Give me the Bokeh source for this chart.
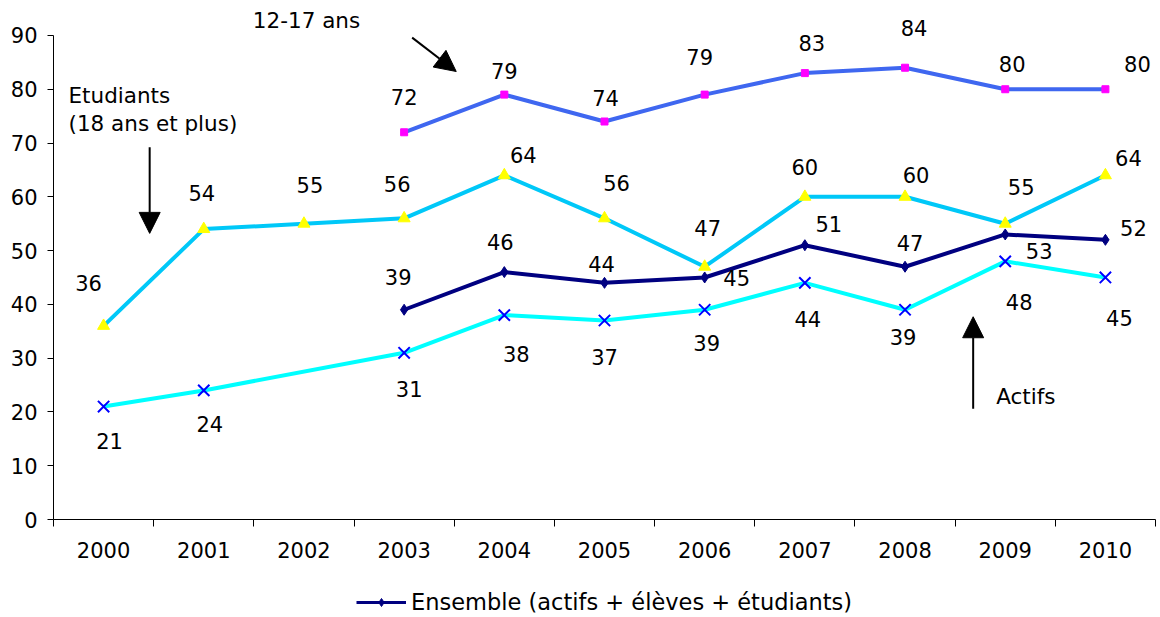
from bokeh.plotting import figure
from bokeh.layouts import column
from bokeh.models import (Range1d, FixedTicker, LabelSet, Label, Arrow, NormalHead,
                          ColumnDataSource, Legend, LegendItem)
from bokeh.core.properties import value
from bokeh.embed import file_html
from bokeh.resources import INLINE

# ---- data ----
years = [2000, 2001, 2002, 2003, 2004, 2005, 2006, 2007, 2008, 2009, 2010]
y_ticks = [0, 10, 20, 30, 40, 50, 60, 70, 80, 90]

ado_years = [2003, 2004, 2005, 2006, 2007, 2008, 2009, 2010]
ado = [72, 79, 74, 79, 83, 84, 80, 80]            # 12-17 ans

etud_years = [2000, 2001, 2002, 2003, 2004, 2005, 2006, 2007, 2008, 2009, 2010]
etud = [36, 54, 55, 56, 64, 56, 47, 60, 60, 55, 64]  # Etudiants (18 ans et plus)

ens_years = [2003, 2004, 2005, 2006, 2007, 2008, 2009, 2010]
ens = [39, 46, 44, 45, 51, 47, 53, 52]            # Ensemble

act_years = [2000, 2001, 2003, 2004, 2005, 2006, 2007, 2008, 2009, 2010]
act = [21, 24, 31, 38, 37, 39, 44, 39, 48, 45]     # Actifs

# label offsets (screen px: dx right, dy down) -- styling only
ado_dx = [0, 0, 1, -5, 7, 9, 7, 32]
ado_dy = [-35, -24, -24, -38, -30, -40, -25, -25]
etud_dx = [-15, -2, 6, -7, 19, 12, 3, 0, 11, 16, 23]
etud_dy = [-43, -36, -39, -34, -20, -35, -39, -30, -22, -37, -17]
ens_dx = [-6, -4, -3, 32, 24, 5, 34, 28]
ens_dy = [-33, -30, -19, 1, -21, -24, 17, -12]
act_dx = [6, 6, 5, 12, 0, 2, 3, -2, 14, 14]
act_dy = [34, 34, 36, 39, 36, 33, 36, 27, 41, 41]

FONT = "DejaVu Sans"
FS = "21px"

p = figure(width=1160, height=570, output_backend="svg", toolbar_location=None,
           x_range=Range1d(1999.5, 2010.5), y_range=Range1d(0, 96.5),
           min_border_left=53, min_border_right=5, min_border_top=0, min_border_bottom=51)
p.outline_line_color = None
p.xgrid.visible = False
p.ygrid.visible = False

# axes
p.yaxis.ticker = FixedTicker(ticks=y_ticks)
p.yaxis.bounds = (0, 90)
p.yaxis.major_tick_out = 6
p.yaxis.major_tick_in = 0
p.yaxis.minor_tick_line_color = None
p.yaxis.major_label_standoff = 10
p.yaxis.axis_line_color = "black"
p.yaxis.major_tick_line_color = "black"

p.xaxis.ticker = FixedTicker(ticks=years, minor_ticks=[y - 0.5 for y in years] + [years[-1] + 0.5])
p.xaxis.major_tick_line_color = None
p.xaxis.minor_tick_out = 7
p.xaxis.minor_tick_in = 0
p.xaxis.minor_tick_line_color = "black"
p.xaxis.major_label_standoff = 15
p.xaxis.axis_line_color = "black"

for ax in (p.xaxis[0], p.yaxis[0]):
    ax.major_label_text_font = FONT
    ax.major_label_text_font_size = FS
    ax.major_label_text_color = "black"

# series
p.line(ado_years, ado, line_color="#3F67F0", line_width=4)
p.scatter(ado_years, ado, marker="square", size=7, fill_color="#FF00FF", line_color="#FF00FF")

p.line(etud_years, etud, line_color="#00C8F8", line_width=4)
p.scatter(etud_years, etud, marker="triangle", size=12, fill_color="#FFFF00", line_color="#FFFF00")

p.line(act_years, act, line_color="#00FFFF", line_width=4)
p.scatter(act_years, act, marker="x", size=16, line_color="#0000FF", line_width=2)

p.line(ens_years, ens, line_color="#000080", line_width=4)
p.scatter(ens_years, ens, marker="diamond", size=11, fill_color="#000080", line_color="#000080")

# data labels
def add_labels(xs, ys, dx, dy):
    src = ColumnDataSource(dict(x=xs, y=ys, t=[str(v) for v in ys],
                                dx=dx, dy=[-d for d in dy]))
    p.add_layout(LabelSet(x="x", y="y", text="t", x_offset="dx", y_offset="dy", source=src,
                          text_font=value(FONT), text_font_size=value(FS), text_color="black",
                          text_align="center", text_baseline="middle"))

add_labels(ado_years, ado, ado_dx, ado_dy)
add_labels(etud_years, etud, etud_dx, etud_dy)
add_labels(ens_years, ens, ens_dx, ens_dy)
add_labels(act_years, act, act_dx, act_dy)

# annotations
NFS = "21.5px"
def note(x, y, t):
    p.add_layout(Label(x=x, y=y, text=t, text_font=FONT, text_font_size=NFS,
                       text_color="black", text_align="left", text_baseline="middle"))

note(2001.49, 92.8, "12-17 ans")
note(1999.65, 78.8, "Etudiants")
note(1999.65, 73.6, "(18 ans et plus)")
note(2008.91, 22.9, "Actifs")

def arrow(x0, y0, x1, y1):
    p.add_layout(Arrow(x_start=x0, y_start=y0, x_end=x1, y_end=y1, line_width=2, line_color="black",
                       end=NormalHead(size=21, fill_color="black", line_color="black")))

arrow(2003.08, 89.6, 2003.52, 83.3)
arrow(2000.46, 69.2, 2000.46, 53.2)
arrow(2008.68, 20.6, 2008.68, 37.7)

# legend strip (separate small figure so the key is not clipped);
# the key renderers hold the Ensemble series but lie outside this strip's view
p2 = figure(width=1160, height=47, output_backend="svg", toolbar_location=None,
            x_range=Range1d(0, 1), y_range=Range1d(0, 1),
            x_axis_location=None, y_axis_location=None, min_border=0)
p2.outline_line_color = None
p2.xgrid.visible = False
p2.ygrid.visible = False
k_line = p2.line(ens_years, ens, line_color="#000080", line_width=3)
k_pts = p2.scatter(ens_years, ens, marker="diamond", size=10, fill_color="#000080", line_color="#000080")
legend = Legend(items=[LegendItem(label="Ensemble (actifs + élèves + étudiants)",
                                  renderers=[k_line, k_pts])],
                location=(303, 2), orientation="horizontal",
                label_text_font=FONT, label_text_font_size="22.5px", label_text_color="black",
                glyph_width=50, glyph_height=20, label_standoff=5,
                border_line_color=None, background_fill_alpha=0,
                padding=0, margin=0)
p2.add_layout(legend, "center")

open("out.html", "w").write(file_html(column(p, p2, spacing=0), INLINE))
